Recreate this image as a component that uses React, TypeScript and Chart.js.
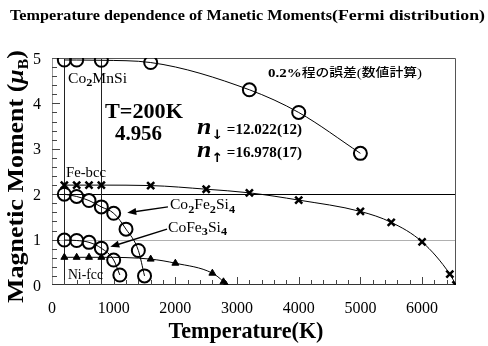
import React, { useEffect, useRef } from "react";
import { Chart, registerables } from "chart.js";

Chart.register(...registerables);

// Axis ticks
const temperatureTicks = [0, 1000, 2000, 3000, 4000, 5000, 6000];
const momentTicks = [0, 1, 2, 3, 4, 5];
const tempMax = 6550;
const momentMax = 5;

// Co2MnSi (open circles)
const co2MnSiT = [200, 400, 800, 1600, 3200, 4000, 5000];
const co2MnSiM = [4.956, 4.955, 4.95, 4.9, 4.3, 3.8, 2.9];

// Fe-bcc (crosses)
const feBccT = [200, 400, 600, 800, 1600, 2500, 3200, 4000, 5000, 5500, 6000, 6450, 6550];
const feBccM = [2.2, 2.2, 2.2, 2.2, 2.19, 2.11, 2.03, 1.87, 1.62, 1.38, 0.95, 0.24, 0];

// Co2Fe2Si4 (open circles)
const co2Fe2Si4T = [200, 400, 600, 800, 1000, 1200, 1400, 1500];
const co2Fe2Si4M = [2.0, 1.95, 1.86, 1.72, 1.58, 1.23, 0.76, 0.2];

// CoFe3Si4 (open circles)
const coFe3Si4T = [200, 400, 600, 800, 1000, 1100];
const coFe3Si4M = [0.99, 0.98, 0.94, 0.81, 0.55, 0.22];

// Ni-fcc (filled triangles)
const niFccT = [200, 400, 600, 800, 1600, 2000, 2600, 2780, 2820];
const niFccM = [0.61, 0.61, 0.61, 0.61, 0.57, 0.48, 0.26, 0.07, 0];

// Reference lines
const markedTemps = [200, 800];

const SERIF = "'Liberation Serif', 'DejaVu Serif', serif";

type Part = { t: string; font: string; dy?: number };

function drawParts(
  ctx: CanvasRenderingContext2D,
  parts: Part[],
  x: number,
  y: number,
  width?: number,
  align: "left" | "center" | "right" = "left"
) {
  ctx.save();
  let total = 0;
  const widths = parts.map((p) => {
    ctx.font = p.font;
    const w = ctx.measureText(p.t).width;
    total += w;
    return w;
  });
  const s = width ? width / total : 1;
  let x0 = x;
  if (align === "center") x0 = x - (total * s) / 2;
  if (align === "right") x0 = x - total * s;
  ctx.translate(x0, y);
  ctx.scale(s, 1);
  ctx.textAlign = "left";
  ctx.textBaseline = "alphabetic";
  ctx.fillStyle = "#000";
  let cx = 0;
  parts.forEach((p, i) => {
    ctx.font = p.font;
    ctx.fillText(p.t, cx, p.dy || 0);
    cx += widths[i];
  });
  ctx.restore();
}

function formula(text: string, size: number, weight = ""): Part[] {
  // digits become subscripts
  const parts: Part[] = [];
  for (const ch of text) {
    if (/[0-9]/.test(ch)) {
      parts.push({ t: ch, font: `bold ${Math.round(size * 0.8)}px ${SERIF}`, dy: size * 0.25 });
    } else {
      parts.push({ t: ch, font: `${weight} ${size}px ${SERIF}` });
    }
  }
  return parts;
}

function arrow(ctx: CanvasRenderingContext2D, x1: number, y1: number, x2: number, y2: number) {
  const ang = Math.atan2(y2 - y1, x2 - x1);
  const head = 9;
  const half = 3.5;
  ctx.save();
  ctx.strokeStyle = "#000";
  ctx.fillStyle = "#000";
  ctx.lineWidth = 1.4;
  ctx.beginPath();
  ctx.moveTo(x1, y1);
  ctx.lineTo(x2 - Math.cos(ang) * head * 0.8, y2 - Math.sin(ang) * head * 0.8);
  ctx.stroke();
  ctx.beginPath();
  ctx.moveTo(x2, y2);
  ctx.lineTo(
    x2 - Math.cos(ang) * head - Math.sin(ang) * half,
    y2 - Math.sin(ang) * head + Math.cos(ang) * half
  );
  ctx.lineTo(
    x2 - Math.cos(ang) * head + Math.sin(ang) * half,
    y2 - Math.sin(ang) * head - Math.cos(ang) * half
  );
  ctx.closePath();
  ctx.fill();
  ctx.restore();
}

const framePlugin = {
  id: "frame",
  beforeDatasetsDraw(chart: any) {
    const { ctx, chartArea: a, scales } = chart;
    const xs = scales.x;
    const ys = scales.y;
    ctx.save();
    ctx.lineWidth = 1;
    // grey line at 1 μB
    ctx.strokeStyle = "#b0b0b0";
    ctx.beginPath();
    ctx.moveTo(a.left, Math.round(ys.getPixelForValue(1)) + 0.5);
    ctx.lineTo(a.right, Math.round(ys.getPixelForValue(1)) + 0.5);
    ctx.stroke();
    // black line at 2 μB
    ctx.strokeStyle = "#000";
    ctx.beginPath();
    ctx.moveTo(a.left, Math.round(ys.getPixelForValue(2)) + 0.5);
    ctx.lineTo(a.right, Math.round(ys.getPixelForValue(2)) + 0.5);
    ctx.stroke();
    // vertical marks
    ctx.strokeStyle = "#222";
    markedTemps.forEach((t) => {
      const px = Math.round(xs.getPixelForValue(t)) + 0.5;
      ctx.beginPath();
      ctx.moveTo(px, a.top);
      ctx.lineTo(px, a.bottom);
      ctx.stroke();
    });
    // frame
    ctx.strokeStyle = "#999";
    ctx.beginPath();
    ctx.moveTo(a.left + 0.5, a.top);
    ctx.lineTo(a.left + 0.5, a.bottom);
    ctx.stroke();
    ctx.strokeStyle = "#555";
    ctx.beginPath();
    ctx.moveTo(a.left, a.top + 0.5);
    ctx.lineTo(a.right - 0.5, a.top + 0.5);
    ctx.lineTo(a.right - 0.5, a.bottom);
    ctx.stroke();
    ctx.strokeStyle = "#333";
    ctx.beginPath();
    ctx.moveTo(a.left, a.bottom - 0.5);
    ctx.lineTo(a.right, a.bottom - 0.5);
    ctx.stroke();
    // inward ticks on the temperature axis
    ctx.strokeStyle = "#444";
    for (let t = 200; t < tempMax; t += 200) {
      const px = Math.round(xs.getPixelForValue(t)) + 0.5;
      const len = t % 1000 === 0 ? 8 : 5;
      ctx.beginPath();
      ctx.moveTo(px, a.bottom);
      ctx.lineTo(px, a.bottom - len);
      ctx.stroke();
    }
    // inward ticks on the moment axis
    for (let i = 1; i < 25; i++) {
      const py = Math.round(ys.getPixelForValue(i / 5)) + 0.5;
      const len = i % 5 === 0 ? 8 : 5;
      ctx.beginPath();
      ctx.moveTo(a.left, py);
      ctx.lineTo(a.left + len, py);
      ctx.stroke();
    }
    ctx.restore();
  },
  afterDatasetsDraw(chart: any) {
    const { ctx, chartArea: a, scales } = chart;
    const xs = scales.x;
    const ys = scales.y;
    const X = (v: number) => xs.getPixelForValue(v);
    const Y = (v: number) => ys.getPixelForValue(v);

    // tick labels
    temperatureTicks.forEach((t) => {
      drawParts(ctx, [{ t: String(t), font: `16px ${SERIF}` }], X(t), a.bottom + 28, undefined, "center");
    });
    momentTicks.forEach((m) => {
      drawParts(ctx, [{ t: String(m), font: `16px ${SERIF}` }], a.left - 11, Y(m) + 5.5, undefined, "right");
    });

    // title
    drawParts(ctx, [{ t: "Temperature dependence of Manetic Moments", font: `bold 15px ${SERIF}` }], 10, 20, 322);
    drawParts(ctx, [{ t: "(Fermi distribution)", font: `bold 15px ${SERIF}` }], 332, 20, 153);

    // axis titles
    drawParts(ctx, [{ t: "Temperature(K)", font: `bold 23px ${SERIF}` }], (a.left + a.right) / 2 - 8, 338, 155, "center");
    ctx.save();
    ctx.translate(23, 176.5);
    ctx.rotate(-Math.PI / 2);
    drawParts(
      ctx,
      [
        { t: "Magnetic Moment (", font: `bold 23px ${SERIF}` },
        { t: "μ", font: `bold italic 23px ${SERIF}` },
        { t: "B", font: `bold 14px ${SERIF}`, dy: 5 },
        { t: ")", font: `bold 23px ${SERIF}` },
      ],
      0,
      0,
      253,
      "center"
    );
    ctx.restore();

    // series labels
    drawParts(ctx, formula("Co2MnSi", 14), X(259), Y(4.45), 59);
    drawParts(ctx, [{ t: "Fe-bcc", font: `14px ${SERIF}` }], X(227), Y(2.38), 40);
    drawParts(ctx, formula("Co2Fe2Si4", 14), X(1913), Y(1.67), 65);
    drawParts(ctx, formula("CoFe3Si4", 14), X(1881), Y(1.17), 59);
    drawParts(ctx, [{ t: "Ni-fcc", font: `14px ${SERIF}` }], X(259), Y(0.13), 35);

    // arrows to the Co-Fe-Si curves
    arrow(ctx, X(1880), Y(1.72), X(1220), Y(1.59));
    arrow(ctx, X(1865), Y(1.23), X(945), Y(0.84));

    // calculation notes
    drawParts(ctx, [{ t: "T=200K", font: `bold 22px ${SERIF}` }], X(859), Y(3.68), 78);
    drawParts(ctx, [{ t: "4.956", font: `bold 21px ${SERIF}` }], X(1021), Y(3.19), 47);
    drawParts(
      ctx,
      [
        { t: "0.2%", font: `bold 13px ${SERIF}` },
        { t: "程の誤差", font: `500 12px 'Noto Sans CJK JP', sans-serif` },
        { t: "(", font: `13px ${SERIF}` },
        { t: "数値計算", font: `500 12px 'Noto Sans CJK JP', sans-serif` },
        { t: ")", font: `13px ${SERIF}` },
      ],
      X(3502),
      Y(4.58),
      154
    );
    drawParts(
      ctx,
      [
        { t: "n", font: `bold italic 24px ${SERIF}` },
        { t: "↓", font: `bold 13px 'DejaVu Sans', sans-serif`, dy: 5 },
        { t: " =12.022(12)", font: `bold 14px ${SERIF}` },
      ],
      X(2351),
      Y(3.33),
      105
    );
    drawParts(
      ctx,
      [
        { t: "n", font: `bold italic 24px ${SERIF}` },
        { t: "↑", font: `bold 13px 'DejaVu Sans', sans-serif`, dy: 5 },
        { t: " =16.978(17)", font: `bold 14px ${SERIF}` },
      ],
      X(2351),
      Y(2.82),
      105
    );
  },
};

function series(label: string, xs: number[], ys: number[], style: any) {
  return {
    label,
    data: xs.map((x, i) => ({ x, y: ys[i] })),
    showLine: true,
    borderColor: "#000",
    borderWidth: 1,
    cubicInterpolationMode: "monotone",
    pointBorderColor: "#000",
    ...style,
  };
}

export default function App() {
  const ref = useRef<HTMLCanvasElement | null>(null);

  useEffect(() => {
    document.body.style.margin = "0";
    const canvas = ref.current;
    if (!canvas) return;
    const circle = {
      pointStyle: "circle",
      pointRadius: 6.5,
      pointBorderWidth: 2,
      pointBackgroundColor: "rgba(0,0,0,0)",
    };
    const chart = new Chart(canvas, {
      type: "scatter",
      data: {
        datasets: [
          series("Co2MnSi", co2MnSiT, co2MnSiM, circle),
          series("Fe-bcc", feBccT, feBccM, {
            pointStyle: "crossRot",
            pointRadius: 5,
            pointBorderWidth: 2.5,
          }),
          series("Co2Fe2Si4", co2Fe2Si4T, co2Fe2Si4M, circle),
          series("CoFe3Si4", coFe3Si4T, coFe3Si4M, circle),
          series("Ni-fcc", niFccT, niFccM, {
            pointStyle: "triangle",
            pointRadius: 4,
            pointBorderWidth: 1,
            pointBackgroundColor: "#000",
          }),
        ] as any,
      },
      options: {
        responsive: false,
        animation: false,
        devicePixelRatio: 1,
        layout: { padding: { left: 52, right: 32, top: 58, bottom: 61 } },
        plugins: {
          legend: { display: false },
          tooltip: { enabled: false },
          title: { display: false },
        },
        scales: {
          x: { type: "linear", min: 0, max: tempMax, display: false },
          y: { type: "linear", min: 0, max: momentMax, display: false },
        },
      } as any,
      plugins: [framePlugin],
    });
    return () => chart.destroy();
  }, []);

  return (
    <div style={{ width: 488, height: 346, background: "#fff" }}>
      <canvas ref={ref} width={488} height={346} style={{ display: "block" }} />
    </div>
  );
}
